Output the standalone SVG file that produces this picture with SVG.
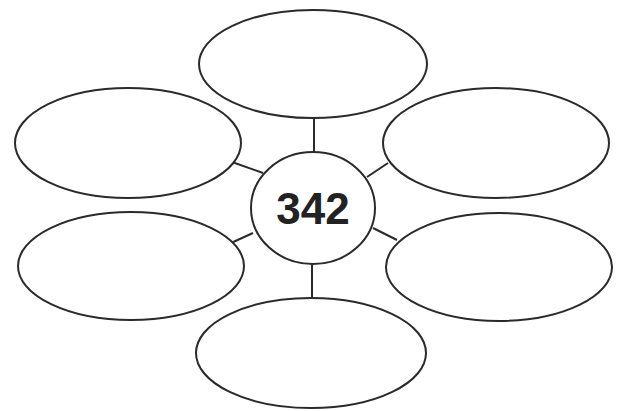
<svg xmlns="http://www.w3.org/2000/svg" width="625" height="411" viewBox="0 0 625 411">
<style>
.n{fill:#fff;stroke:#2a2a2a;stroke-width:2}
.c{stroke:#2a2a2a;stroke-width:2;fill:none}
.t{font-family:"Liberation Sans",Arial,sans-serif;font-weight:bold;font-size:44px;fill:#222;text-anchor:middle}
</style>
<rect width="625" height="411" fill="#fff"/>
<g id="connectors">
<line class="c" x1="314" y1="118" x2="314" y2="153"/>
<line class="c" x1="312" y1="263" x2="312" y2="298"/>
<line class="c" x1="232" y1="162" x2="263" y2="173"/>
<line class="c" x1="367" y1="177" x2="388" y2="163"/>
<line class="c" x1="253" y1="233" x2="231" y2="243"/>
<line class="c" x1="373" y1="228" x2="397" y2="240"/>
</g>
<g id="top"><ellipse class="n" cx="313" cy="64" rx="114" ry="54"/></g>
<g id="upper-left"><ellipse class="n" cx="128" cy="143" rx="113" ry="55"/></g>
<g id="upper-right"><ellipse class="n" cx="496" cy="143" rx="113" ry="55"/></g>
<g id="lower-left"><ellipse class="n" cx="131" cy="266" rx="113" ry="54"/></g>
<g id="lower-right"><ellipse class="n" cx="499" cy="267" rx="113" ry="54"/></g>
<g id="bottom"><ellipse class="n" cx="311" cy="353" rx="115" ry="55"/></g>
<g id="center"><ellipse class="n" cx="313" cy="208" rx="62" ry="56"/><text class="t" x="313" y="224">342</text></g>
</svg>
